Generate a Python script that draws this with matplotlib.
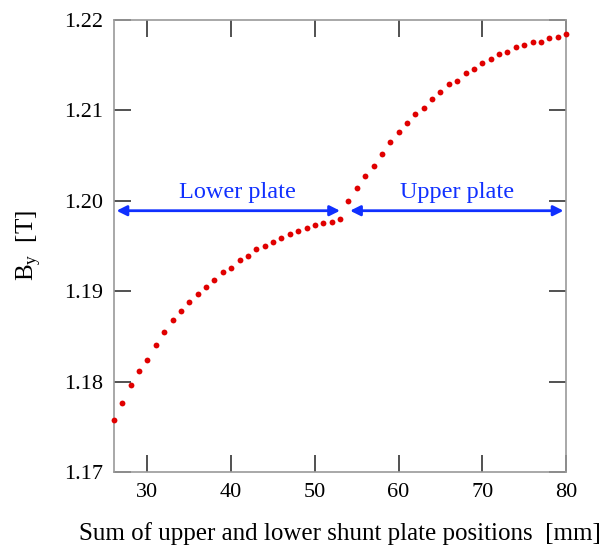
import numpy as np
import matplotlib
matplotlib.use("Agg")
import matplotlib.pyplot as plt

plt.rcParams['font.family'] = ['Liberation Serif', 'DejaVu Serif']
plt.rcParams['mathtext.fontset'] = 'custom'
plt.rcParams['mathtext.rm'] = 'Liberation Serif'
plt.rcParams['mathtext.it'] = 'Liberation Serif'

# shunt plate position sum [mm] and field By [T]
positions = list(range(26, 81))
by_field = [
    1.1758, 1.1776, 1.1796, 1.1812, 1.1824, 1.1841, 1.1855, 1.1868, 1.1878, 1.1888,
    1.1897, 1.1905, 1.1912, 1.1921, 1.1926, 1.1935, 1.1939, 1.1947, 1.1950, 1.1954,
    1.1959, 1.1963, 1.1967, 1.1970, 1.1973, 1.1975, 1.1977, 1.1980, 1.2000, 1.2014,
    1.2027, 1.2039, 1.2052, 1.2065, 1.2076, 1.2086, 1.2096, 1.2103, 1.2112, 1.2120,
    1.2129, 1.2133, 1.2141, 1.2146, 1.2152, 1.2157, 1.2162, 1.2165, 1.2170, 1.2172,
    1.2176, 1.2176, 1.2180, 1.2181, 1.2184,
]

x_ticks = [30, 40, 50, 60, 70, 80]
y_ticks = [1.17, 1.18, 1.19, 1.20, 1.21, 1.22]

# ranges covered by each plate
lower_range = (26, 53)
upper_range = (54.2, 80)
arrow_y = 1.1989

fig = plt.figure(figsize=(6.08, 5.46), dpi=100)
ax = fig.add_axes([0.1875, 0.1355, 0.7435, 0.828])

ax.plot(positions, by_field, 'o', color='#e00000', markersize=4.2,
        markeredgewidth=0, clip_on=False, zorder=3)

arrow_kw = dict(arrowstyle='<|-|>', color='#1030ff', lw=2,
                mutation_scale=15, shrinkA=0, shrinkB=0)
ax.annotate('', xy=(lower_range[0] + 0.3, arrow_y), xytext=(lower_range[1], arrow_y),
            arrowprops=arrow_kw)
ax.annotate('', xy=(upper_range[0], arrow_y), xytext=(upper_range[1] - 0.3, arrow_y),
            arrowprops=arrow_kw)
ax.text(40.7, 1.2003, 'Lower plate', color='#1030ff', fontsize=17.5,
        ha='center', va='baseline')
ax.text(67.0, 1.2003, 'Upper plate', color='#1030ff', fontsize=17.5,
        ha='center', va='baseline')

ax.set_xlim(26, 80)
ax.set_ylim(1.17, 1.22)
ax.set_xticks(x_ticks)
ax.set_yticks(y_ticks)
ax.set_yticklabels([f'{v:.2f}' for v in y_ticks])
ax.tick_params(direction='in', length=12, width=1.2, color='#333333',
               top=True, right=True, labelsize=16, pad=8)
for spine in ax.spines.values():
    spine.set_color('#999999')
    spine.set_linewidth(1.2)

ax.set_xlabel('Sum of upper and lower shunt plate positions  [mm]',
              fontsize=18, labelpad=14)
ax.set_ylabel(r'B$_{\mathrm{y}}$  [T]', fontsize=18, labelpad=14)

fig.savefig('out.png', dpi=100)
